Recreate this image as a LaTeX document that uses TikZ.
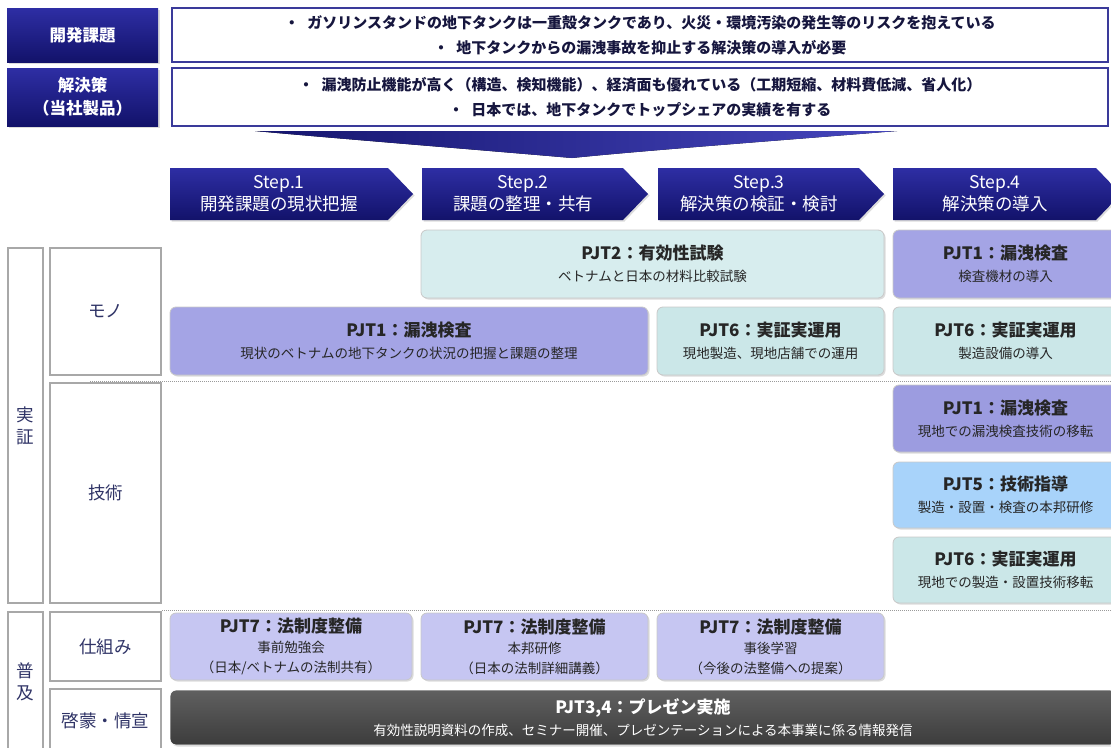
\documentclass[tikz,border=0pt]{standalone}
\usepackage{fontspec}
\setmainfont{Noto Sans CJK JP}
\usetikzlibrary{shadows}
\definecolor{navyT}{HTML}{2E2EA4}
\definecolor{navyB}{HTML}{12126A}
\definecolor{wedgeD}{HTML}{15156E}
\definecolor{wedgeL}{HTML}{4646BE}
\definecolor{hdrB}{HTML}{3A3A9A}
\definecolor{hdrT}{HTML}{16163E}
\definecolor{lblB}{HTML}{A8A8A8}
\definecolor{lblT}{HTML}{2F3366}
\definecolor{pjtB}{HTML}{C8C8C8}
\definecolor{purpleA}{HTML}{A4A4E5}
\definecolor{purpleB}{HTML}{9C9CE0}
\definecolor{lavender}{HTML}{C6C6F2}
\definecolor{tealA}{HTML}{D7EDEE}
\definecolor{tealB}{HTML}{CBE7E8}
\definecolor{blueA}{HTML}{A8D3FA}
\definecolor{grayT}{HTML}{606060}
\definecolor{grayB}{HTML}{3C3C3C}
\definecolor{subT}{HTML}{262626}
\definecolor{sepC}{HTML}{9A9A9A}
\newcommand\pjttitle[1]{{\fontsize{17}{22}\selectfont\bfseries #1}}
\begin{document}
\begin{tikzpicture}[x=1pt,y=-1pt,
  shd/.style={drop shadow={shadow xshift=1.5pt,shadow yshift=-1.5pt,opacity=.28}},
  navybox/.style={shd,draw=none,top color=navyT,bottom color=navyB,text=white,
    font=\fontsize{16.5}{23}\selectfont\bfseries,align=center,inner sep=0pt,minimum width=151pt},
  hdrbox/.style={draw=hdrB,line width=1.5pt,fill=white,text=hdrT,
    font=\fontsize{15}{25}\selectfont\bfseries,align=center,inner sep=0pt,minimum width=936pt},
  lbl/.style={draw=lblB,line width=2pt,fill=white,text=lblT,
    font=\fontsize{17.5}{22}\selectfont,align=center,inner sep=0pt},
  pjt/.style={shd,rounded corners=6pt,draw=pjtB,line width=0.8pt,align=center,inner sep=0pt,
    text=subT,font=\fontsize{13.5}{22}\selectfont},
  pjt3/.style={pjt,font=\fontsize{13.5}{20}\selectfont},
  stepfill/.style={shd,top color=navyT,bottom color=navyB,draw=none},
  steptext/.style={text=white,font=\fontsize{17.5}{22}\selectfont,align=center,inner sep=0pt},
  sep/.style={draw=sepC,line width=1pt,dash pattern=on 1pt off 1pt}
]
\useasboundingbox (0,0) rectangle (1111,747);
\clip (0,0) rectangle (1111,747);

% header
\node[navybox,minimum height=54pt] (k1) at (82.5,35) {開発課題};
\node[navybox,minimum height=58pt] (k2) at (82.5,97) {解決策\\（当社製品）};
\node[hdrbox,minimum height=54pt] (h1) at (640,35)
  {・\hspace{8pt}ガソリンスタンドの地下タンクは一重殻タンクであり、火災・環境汚染の発生等のリスクを抱えている\\
   ・\hspace{8pt}地下タンクからの漏洩事故を抑止する解決策の導入が必要};
\node[hdrbox,minimum height=58pt] (h2) at (640,97)
  {・\hspace{8pt}漏洩防止機能が高く（構造、検知機能）、経済面も優れている（工期短縮、材料費低減、省人化）\\
   ・\hspace{8pt}日本では、地下タンクでトップシェアの実績を有する};

% wedge
\fill[left color=wedgeD,right color=wedgeL] (255,131) -- (897,131)
  .. controls (760,142) and (640,151) .. (572,158)
  .. controls (480,150) and (330,138) .. (255,131) -- cycle;

% steps
\path[stepfill] (170,168) -- (388,168) -- (413,194) -- (388,220) -- (170,220) -- cycle;
\path[stepfill] (422,168) -- (623,168) -- (648,194) -- (623,220) -- (422,220) -- cycle;
\path[stepfill] (658,168) -- (859,168) -- (884,194) -- (859,220) -- (658,220) -- cycle;
\path[stepfill] (893,168) -- (1096,168) -- (1121,194) -- (1096,220) -- (893,220) -- cycle;
\node[steptext] (s1) at (279,194) {Step.1\\開発課題の現状把握};
\node[steptext] (s2) at (523,194) {Step.2\\課題の整理・共有};
\node[steptext] (s3) at (759,194) {Step.3\\解決策の検証・検討};
\node[steptext] (s4) at (995,194) {Step.4\\解決策の導入};

% separators
\draw[sep] (90,381) -- (1111,381);
\draw[sep] (162,610.5) -- (1111,610.5);

% left labels
\node[lbl,minimum width=35pt,minimum height=355pt] (lj) at (25.5,425.5) {実\\証};
\node[lbl,minimum width=111pt,minimum height=127pt] (lm) at (105.5,311.5) {モノ};
\node[lbl,minimum width=111pt,minimum height=220pt] (lg) at (105.5,493) {技術};
\node[lbl,minimum width=35pt,minimum height=140pt] (lf) at (25.5,682) {普\\及};
\node[lbl,minimum width=111pt,minimum height=69pt] (ls) at (105.5,646.5) {仕組み};
\node[lbl,minimum width=111pt,minimum height=63pt] (lk) at (105.5,720.5) {啓蒙・情宣};

% projects
\node[pjt,fill=tealA,minimum width=463pt,minimum height=68pt] (p2) at (652.5,264)
  {\pjttitle{PJT2：有効性試験}\\ベトナムと日本の材料比較試験};
\node[pjt,fill=purpleA,minimum width=225pt,minimum height=68pt] (p1d) at (1005.5,264)
  {\pjttitle{PJT1：漏洩検査}\\検査機材の導入};
\node[pjt,fill=purpleA,minimum width=478pt,minimum height=68pt] (p1b) at (409,341)
  {\pjttitle{PJT1：漏洩検査}\\現状のベトナムの地下タンクの状況の把握と課題の整理};
\node[pjt,fill=tealB,minimum width=227pt,minimum height=68pt] (p6a) at (770.5,341)
  {\pjttitle{PJT6：実証実運用}\\現地製造、現地店舗での運用};
\node[pjt,fill=tealB,minimum width=225pt,minimum height=68pt] (p6b) at (1005.5,341)
  {\pjttitle{PJT6：実証実運用}\\製造設備の導入};
\node[pjt,fill=purpleB,minimum width=225pt,minimum height=67pt] (p1c) at (1005.5,418.5)
  {\pjttitle{PJT1：漏洩検査}\\現地での漏洩検査技術の移転};
\node[pjt,fill=blueA,minimum width=225pt,minimum height=66pt] (p5) at (1005.5,495)
  {\pjttitle{PJT5：技術指導}\\製造・設置・検査の本邦研修};
\node[pjt,fill=tealB,minimum width=225pt,minimum height=66pt] (p6c) at (1005.5,570)
  {\pjttitle{PJT6：実証実運用}\\現地での製造・設置技術移転};
\node[pjt3,fill=lavender,minimum width=242pt,minimum height=67pt] (p7a) at (291,646.5)
  {\pjttitle{PJT7：法制度整備}\\事前勉強会\\（日本/ベトナムの法制共有）};
\node[pjt3,fill=lavender,minimum width=227pt,minimum height=67pt] (p7b) at (534.5,646.5)
  {\pjttitle{PJT7：法制度整備}\\本邦研修\\（日本の法制詳細講義）};
\node[pjt3,fill=lavender,minimum width=227pt,minimum height=67pt] (p7c) at (770.5,646.5)
  {\pjttitle{PJT7：法制度整備}\\事後学習\\（今後の法整備への提案）};
\node[pjt,top color=grayT,bottom color=grayB,draw=white,text=white,minimum width=946pt,minimum height=55pt] (p34) at (643,717.5)
  {\pjttitle{PJT3,4：プレゼン実施}\\有効性説明資料の作成、セミナー開催、プレゼンテーションによる本事業に係る情報発信};
\end{tikzpicture}
\end{document}
